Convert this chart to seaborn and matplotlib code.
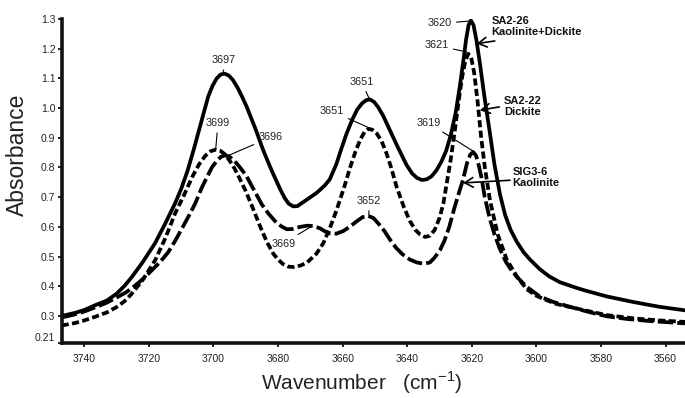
import matplotlib
matplotlib.use("Agg")
import matplotlib.pyplot as plt
import pandas as pd
import seaborn as sns

# spectra (wavenumber in cm-1, absorbance)
wn_sa226 = [3747, 3743, 3740, 3736.7, 3733, 3730, 3727.5, 3725.3, 3722, 3718.1,
            3715, 3711.9, 3710, 3708, 3706, 3704.5, 3703, 3701.6, 3700.3, 3699,
            3697.8, 3696.6, 3695.3, 3694, 3692.5, 3691, 3689.7, 3687, 3684.6, 3682,
            3679.4, 3678, 3676.7, 3675.3, 3674, 3672, 3668, 3665.5, 3664, 3662,
            3660.5, 3658.8, 3657, 3655.5, 3654, 3652.7, 3651.5, 3650.2, 3649, 3647.5,
            3646, 3643, 3640.2, 3638.5, 3637, 3635.5, 3634, 3632.5, 3631, 3629.5,
            3628, 3626.5, 3625, 3623.7, 3622.5, 3621.8, 3621, 3620.3, 3619.5, 3618.6,
            3617.5, 3616, 3614.4, 3613, 3611.3, 3609.7, 3608, 3606.1, 3604, 3602,
            3599, 3596, 3592.8, 3588, 3585, 3578.3, 3570, 3562, 3554]
abs_sa226 = [0.300, 0.310, 0.320, 0.336, 0.352, 0.375, 0.402, 0.431, 0.480, 0.545,
             0.610, 0.679, 0.728, 0.790, 0.865, 0.925, 0.985, 1.040, 1.075, 1.100,
             1.113, 1.116, 1.110, 1.095, 1.068, 1.035, 1.004, 0.930, 0.858, 0.790,
             0.728, 0.698, 0.678, 0.669, 0.670, 0.685, 0.715, 0.740, 0.760, 0.810,
             0.860, 0.914, 0.962, 0.995, 1.016, 1.027, 1.029, 1.020, 1.003, 0.975,
             0.940, 0.870, 0.808, 0.780, 0.765, 0.758, 0.760, 0.770, 0.790, 0.818,
             0.855, 0.910, 0.985, 1.075, 1.170, 1.230, 1.280, 1.295, 1.280, 1.230,
             1.150, 1.030, 0.915, 0.810, 0.710, 0.640, 0.590, 0.550, 0.515, 0.490,
             0.458, 0.433, 0.414, 0.396, 0.386, 0.366, 0.347, 0.331, 0.319]

wn_sa222 = [3747, 3743, 3740, 3736.7, 3733, 3730, 3727.5, 3725.3, 3722, 3718.1,
            3715, 3711.9, 3709, 3706.5, 3704.5, 3702.5, 3701, 3699.5, 3698, 3696.5,
            3695, 3693.5, 3692, 3690, 3687.7, 3685.5, 3683.5, 3681.5, 3680, 3678.5,
            3676.8, 3675, 3673, 3671, 3668.1, 3666, 3664, 3661.9, 3659.5, 3657.7,
            3656, 3654.5, 3653.2, 3652, 3650.8, 3649.5, 3648, 3646.5, 3645, 3643.3,
            3641, 3639.2, 3637.5, 3636, 3634.5, 3633, 3631.5, 3630, 3628.8, 3627.8,
            3626.5, 3625.2, 3624, 3623, 3622, 3621.1, 3620.2, 3619.3, 3618.3, 3617.2,
            3616, 3614.4, 3612, 3609.2, 3606, 3603, 3600, 3598, 3593.7, 3585,
            3578.3, 3570, 3562, 3554]
abs_sa222 = [0.268, 0.276, 0.285, 0.297, 0.312, 0.330, 0.350, 0.375, 0.420, 0.487,
             0.560, 0.645, 0.710, 0.770, 0.810, 0.840, 0.854, 0.860, 0.857, 0.845,
             0.823, 0.797, 0.765, 0.720, 0.660, 0.600, 0.550, 0.510, 0.490, 0.475,
             0.466, 0.465, 0.470, 0.480, 0.510, 0.545, 0.595, 0.656, 0.735, 0.800,
             0.855, 0.895, 0.920, 0.930, 0.927, 0.915, 0.890, 0.850, 0.800, 0.735,
             0.665, 0.620, 0.590, 0.574, 0.566, 0.570, 0.590, 0.630, 0.680, 0.745,
             0.830, 0.930, 1.030, 1.105, 1.160, 1.183, 1.170, 1.120, 1.030, 0.910,
             0.802, 0.690, 0.575, 0.490, 0.432, 0.390, 0.368, 0.358, 0.340, 0.319,
             0.303, 0.292, 0.285, 0.280]

wn_sig36 = [3747, 3743, 3740, 3735.7, 3733, 3730, 3727, 3724.3, 3721.5, 3719,
            3716.5, 3714, 3711.5, 3709, 3707, 3705.7, 3703.5, 3702, 3700.5, 3699,
            3697.7, 3696.4, 3695, 3693.5, 3692, 3690, 3687.5, 3685, 3683, 3681,
            3679, 3677.3, 3675.5, 3673.2, 3671, 3669.1, 3667, 3665.5, 3663.9, 3662,
            3659.8, 3657.5, 3655.5, 3653.8, 3652.1, 3650.5, 3649, 3647, 3645.4, 3643.5,
            3641.5, 3639.2, 3637, 3635, 3633, 3631.5, 3629.9, 3628.5, 3627, 3625.5,
            3624, 3622.7, 3621.5, 3620.5, 3619.6, 3618.7, 3617.8, 3617, 3616, 3614.5,
            3613, 3611.3, 3609.5, 3608, 3606.1, 3603, 3599, 3595, 3590, 3584,
            3578.3, 3572, 3565, 3554]
abs_sig36 = [0.295, 0.305, 0.315, 0.333, 0.345, 0.362, 0.380, 0.402, 0.428, 0.455,
             0.482, 0.515, 0.560, 0.610, 0.650, 0.678, 0.735, 0.768, 0.800, 0.822,
             0.836, 0.841, 0.836, 0.822, 0.803, 0.775, 0.725, 0.675, 0.645, 0.620,
             0.602, 0.592, 0.593, 0.600, 0.604, 0.603, 0.595, 0.585, 0.578, 0.577,
             0.586, 0.603, 0.620, 0.633, 0.637, 0.630, 0.612, 0.585, 0.558, 0.530,
             0.508, 0.490, 0.480, 0.476, 0.480, 0.497, 0.521, 0.553, 0.600, 0.660,
             0.715, 0.760, 0.815, 0.843, 0.852, 0.840, 0.805, 0.765, 0.700, 0.630,
             0.575, 0.525, 0.483, 0.458, 0.432, 0.398, 0.366, 0.348, 0.332, 0.314,
             0.299, 0.290, 0.283, 0.275]

samples = ["SA2-26", "SA2-22", "SIG3-6"]
ytick_values = [0.21, 0.3, 0.4, 0.5, 0.6, 0.7, 0.8, 0.9, 1.0, 1.1, 1.2, 1.3]
ytick_labels = ["0.21", "0.3", "0.4", "0.5", "0.6", "0.7", "0.8", "0.9", "1.0", "1.1", "1.2", "1.3"]
xtick_values = [3740, 3720, 3700, 3680, 3660, 3640, 3620, 3600, 3580, 3560]

# peak labels: text, point on curve, text position
peak_text = ["3697", "3699", "3696", "3651", "3651", "3652", "3669", "3619", "3620", "3621"]
peak_xy = [(3697.0, 1.12), (3699.3, 0.864), (3695.9, 0.838), (3651.8, 1.032), (3650.7, 0.928),
           (3651.9, 0.639), (3669.6, 0.602), (3619.6, 0.855), (3620.8, 1.293), (3621.6, 1.189)]
peak_pos = [(3696.7, 1.161), (3698.6, 0.949), (3682.4, 0.901), (3654.1, 1.088), (3663.4, 0.990),
            (3651.8, 0.687), (3678.4, 0.544), (3633.5, 0.950), (3629.9, 1.285), (3630.9, 1.211)]

# sample names with arrows
sample_text = ["SA2-26\nKaolinite+Dickite", "SA2-22\nDickite", "SIG3-6\nKaolinite"]
sample_pos = [(3613.9, 1.274), (3610.1, 1.005), (3607.4, 0.765)]
arrow_tail = [(3612.9, 1.226), (3611.5, 1.004), (3608.2, 0.757)]
arrow_head = [(3618.5, 1.217), (3617.5, 0.993), (3622.7, 0.748)]

df = pd.concat([
    pd.DataFrame({"wn": wn_sa226, "abs": abs_sa226, "sample": samples[0]}),
    pd.DataFrame({"wn": wn_sa222, "abs": abs_sa222, "sample": samples[1]}),
    pd.DataFrame({"wn": wn_sig36, "abs": abs_sig36, "sample": samples[2]}),
])

sns.set_style("ticks")
plt.rcParams["font.family"] = ["Liberation Sans", "DejaVu Sans"]
plt.rcParams["mathtext.fontset"] = "custom"
plt.rcParams["mathtext.rm"] = "Liberation Sans"

fig = plt.figure(figsize=(6.85, 3.98), dpi=100)
ax = fig.add_axes([61.7 / 685, 1 - 342.7 / 398, (685 - 61.7) / 685, (342.7 - 19) / 398])

sns.lineplot(data=df, x="wn", y="abs", style="sample", style_order=samples,
             dashes={"SA2-26": "", "SA2-22": (1.9, 0.9), "SIG3-6": (4.1, 1.1)},
             color="black", linewidth=2.7, estimator=None, sort=False,
             legend=False, ax=ax)
for line in ax.lines:
    line.set_solid_joinstyle("round")
    line.set_dash_joinstyle("round")

ax.set_xlim(3747, 3554)
ax.set_ylim(0.21, 1.3)
ax.set_xticks(xtick_values)
ax.set_xticklabels([str(v) for v in xtick_values])
ax.set_yticks(ytick_values)
ax.set_yticklabels(ytick_labels)
ax.tick_params(axis="both", labelsize=7.5, length=3, width=1.2, colors="black",
               labelcolor="#222222")
ax.tick_params(axis="x", pad=5)
ax.tick_params(axis="y", pad=1.5)
ax.get_yticklabels()[0].set_va("bottom")

sns.despine(ax=ax)
for side in ["left", "bottom"]:
    ax.spines[side].set_linewidth(2.6)
    ax.spines[side].set_color("#111111")

ax.set_xlabel("Wavenumber   (cm$^{\\mathregular{-1}}$)", fontsize=15, color="#222222")
ax.set_ylabel("Absorbance", fontsize=16.5, color="#222222")
ax.xaxis.set_label_coords(0.482, -0.082)
ax.yaxis.set_label_coords(-0.052, 0.58)

for txt, xy, pos in zip(peak_text, peak_xy, peak_pos):
    ax.annotate(txt, xy=xy, xytext=pos, ha="center", va="center", fontsize=7.8,
                color="#222222",
                arrowprops=dict(arrowstyle="-", lw=0.8, color="black",
                                shrinkA=1, shrinkB=0))

for txt, pos in zip(sample_text, sample_pos):
    ax.text(pos[0], pos[1], txt, ha="left", va="center", fontsize=8,
            fontweight="bold", linespacing=1.15, color="#111111")

for tail, head in zip(arrow_tail, arrow_head):
    ax.annotate("", xy=head, xytext=tail,
                arrowprops=dict(arrowstyle="->,head_length=0.6,head_width=0.35",
                                lw=1.2, color="black", shrinkA=0, shrinkB=0))

fig.savefig("out.png", dpi=100)
